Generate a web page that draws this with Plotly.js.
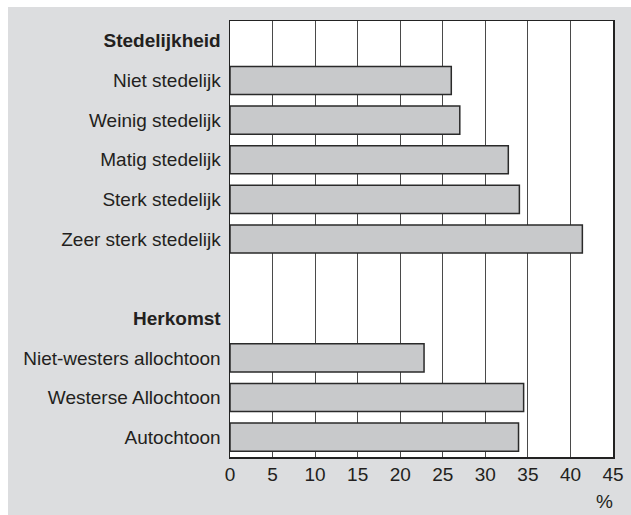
<!DOCTYPE html>
<html>
<head>
<meta charset="utf-8">
<script src="https://cdn.plot.ly/plotly-3.0.1.min.js"></script>
<style>
html,body{margin:0;padding:0;background:#ffffff;}
#chart{position:absolute;left:8px;top:7px;width:623px;height:508px;}
</style>
</head>
<body>
<div id="chart"></div>
<script>
// Category order (top to bottom), including header rows and a blank spacer
const categories = [
  "<b>Stedelijkheid</b>",
  "Niet stedelijk",
  "Weinig stedelijk",
  "Matig stedelijk",
  "Sterk stedelijk",
  "Zeer sterk stedelijk",
  " ",
  "<b>Herkomst</b>",
  "Niet-westers allochtoon",
  "Westerse Allochtoon",
  "Autochtoon"
];
// Bars (only the data rows)
const barLabels = [
  "Niet stedelijk",
  "Weinig stedelijk",
  "Matig stedelijk",
  "Sterk stedelijk",
  "Zeer sterk stedelijk",
  "Niet-westers allochtoon",
  "Westerse Allochtoon",
  "Autochtoon"
];
const barValues = [26.0, 27.0, 32.7, 34.0, 41.4, 22.8, 34.5, 33.9];
const xTicks = [0, 5, 10, 15, 20, 25, 30, 35, 40, 45];

const txt = '#231f20';
const font = {family: '"Liberation Sans", Arial, sans-serif', size: 19, color: txt};

Plotly.newPlot('chart', [{
  type: 'bar',
  orientation: 'h',
  x: barValues,
  y: barLabels,
  width: 0.71,
  marker: {color: '#c8c9cb', line: {color: '#2a2a2a', width: 1.5}},
  hoverinfo: 'none'
}], {
  width: 623, height: 508,
  margin: {l: 222, r: 17.7, t: 14, b: 57.7},
  paper_bgcolor: '#dcdddf',
  plot_bgcolor: '#ffffff',
  font: font,
  showlegend: false,
  bargap: 0.29,
  xaxis: {
    range: [0, 45],
    tickvals: xTicks,
    ticktext: xTicks.map(String),
    ticks: '',
    showgrid: true,
    gridcolor: '#4a4a4a',
    gridwidth: 1,
    zeroline: false,
    showline: true,
    linecolor: '#222222',
    linewidth: 1.5,
    mirror: true,
    tickfont: font,
    fixedrange: true
  },
  yaxis: {
    type: 'category',
    categoryorder: 'array',
    categoryarray: categories,
    range: [categories.length - 0.5, -0.5],
    tickvals: categories,
    ticktext: categories,
    ticks: '',
    showgrid: false,
    zeroline: false,
    showline: true,
    linecolor: '#222222',
    linewidth: 1.5,
    mirror: true,
    tickfont: font,
    ticklabelstandoff: 4,
    fixedrange: true
  },
  annotations: [{
    text: '%', xref: 'paper', yref: 'paper', x: 1.0, y: 0, xanchor: 'right', yanchor: 'top',
    yshift: -32, xshift: 2, showarrow: false, font: font
  }]
}, {displayModeBar: false, staticPlot: true});
</script>
</body>
</html>
